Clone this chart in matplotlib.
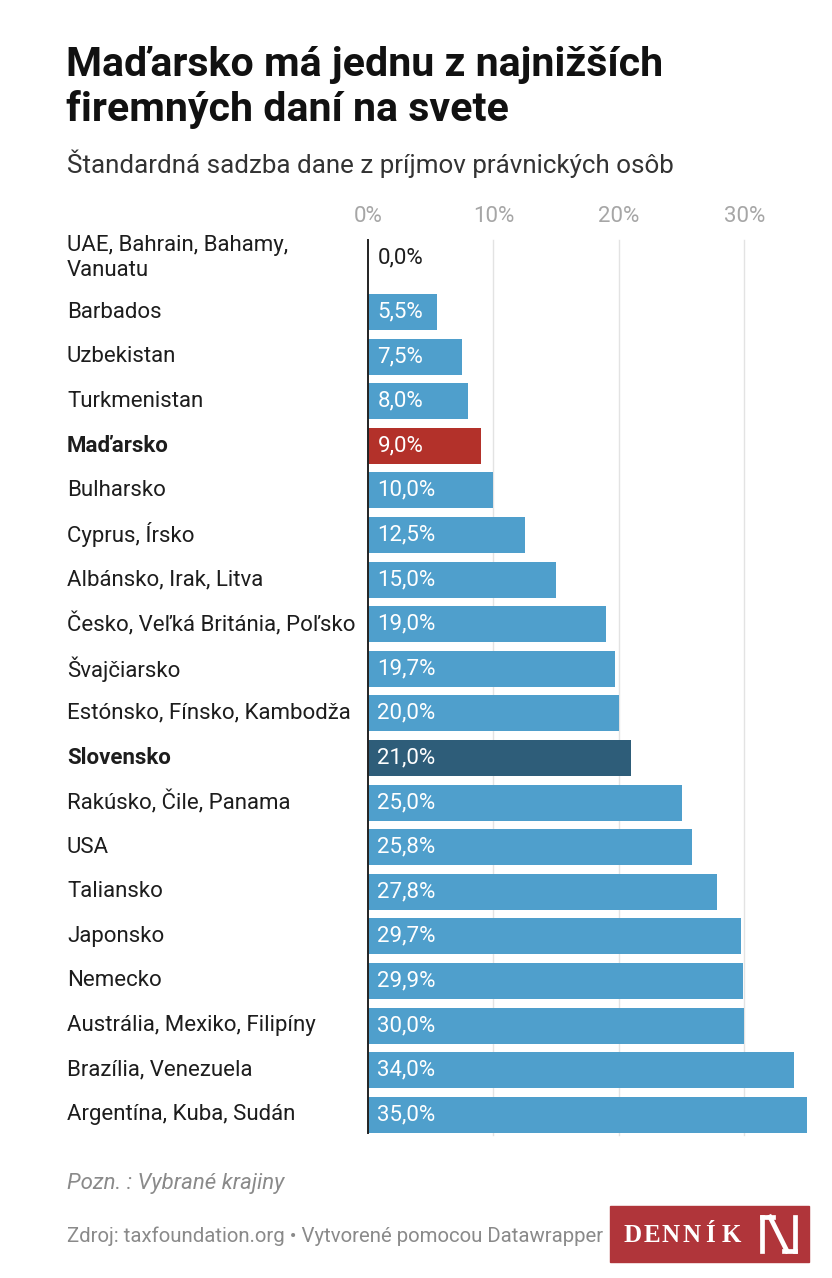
import matplotlib
matplotlib.use("Agg")
import matplotlib.pyplot as plt
from matplotlib.lines import Line2D
from matplotlib.patches import Rectangle

plt.rcParams["font.family"] = ["Roboto", "DejaVu Sans"]

W, H = 832, 1278

LABELS = [
    "UAE, Bahrain, Bahamy,\nVanuatu", "Barbados", "Uzbekistan", "Turkmenistan",
    "Maďarsko", "Bulharsko", "Cyprus, Írsko", "Albánsko, Irak, Litva",
    "Česko, Veľká Británia, Poľsko", "Švajčiarsko", "Estónsko, Fínsko, Kambodža",
    "Slovensko", "Rakúsko, Čile, Panama", "USA", "Taliansko", "Japonsko",
    "Nemecko", "Austrália, Mexiko, Filipíny", "Brazília, Venezuela",
    "Argentína, Kuba, Sudán",
]
RATES = [0.0, 5.5, 7.5, 8.0, 9.0, 10.0, 12.5, 15.0, 19.0, 19.7, 20.0, 21.0,
         25.0, 25.8, 27.8, 29.7, 29.9, 30.0, 34.0, 35.0]
HIGHLIGHT = {"Maďarsko": "#b3312a", "Slovensko": "#2e5d79"}
TICKS = [0, 10, 20, 30]

BLUE = "#4f9fcc"
INK = "#1d1d1d"
GRAY = "#8a8a8a"


def fx(x):
    return x / W


def fy(y):
    return 1 - y / H


fig = plt.figure(figsize=(W / 100, H / 100), dpi=100)
fig.patch.set_facecolor("white")

# plot area in pixel layout: x 368..807 (0..35 %), y 240..1135
top, bottom = 240, 1135
ax = fig.add_axes([fx(368), fy(bottom), fx(807) - fx(368), (bottom - top) / H])
ax.set_xlim(0, 35)
ax.set_ylim(bottom, top)
ax.axis("off")

# row centres (first row is taller because of its two-line label)
rows = [258] + [312 + i * 44.6 for i in range(len(LABELS) - 1)]

for t in TICKS[1:]:
    ax.plot([t, t], [top, bottom], color="#e3e3e3", lw=1, zorder=0, clip_on=False)

for lab, v, y in zip(LABELS, RATES, rows):
    col = HIGHLIGHT.get(lab, BLUE)
    ax.barh(y, v, height=36, color=col, zorder=2)
    txt = f"{v:.1f}%".replace(".", ",")
    ax.text(0.75, y, txt, ha="left", va="center", fontsize=16,
            color="white" if v > 0 else INK, zorder=3)
    bold = lab in HIGHLIGHT
    fig.text(fx(67), fy(y), lab, ha="left", va="center", fontsize=16,
             color=INK, fontweight="bold" if bold else "normal",
             linespacing=1.2)

ax.plot([0, 0], [top, bottom - 2], color="#222222", lw=1.4, zorder=4,
        clip_on=False)

for t in TICKS:
    ax.text(t, 217, f"{t}%", ha="center", va="center", fontsize=16,
            color="#a6a6a6")

# titles
fig.text(fx(66), fy(76), "Maďarsko má jednu z najnižších", ha="left",
         va="baseline", fontsize=29.6, fontweight="bold", color="#111111")
fig.text(fx(66), fy(121), "firemných daní na svete", ha="left",
         va="baseline", fontsize=29.6, fontweight="bold", color="#111111")
fig.text(fx(67), fy(173), "Štandardná sadzba dane z príjmov právnických osôb",
         ha="left", va="baseline", fontsize=18.7, color="#333333")

# notes
fig.text(fx(67), fy(1184), "Pozn. : Vybrané krajiny", ha="left", va="center",
         fontsize=16, style="italic", color=GRAY)
fig.text(fx(67), fy(1236),
         "Zdroj: taxfoundation.org • Vytvorené pomocou Datawrapper",
         ha="left", va="center", fontsize=14.7, color=GRAY)

# logo
LOGO_RED = "#b0353a"
fig.add_artist(Rectangle((fx(610), fy(1262)), fx(809) - fx(610), (1262 - 1206) / H,
                         transform=fig.transFigure, color=LOGO_RED))
for ch, cx in zip("DENNÍK", [633, 652, 671, 692, 710, 731]):
    fig.text(fx(cx), fy(1242), ch, ha="center", va="baseline", fontsize=18,
             fontweight="bold", color="white", family=["Liberation Serif"])
x0, x1, y0, y1 = 762, 795, 1217, 1251
nlw = 3.4
segs = [
    ((x0, x0 + 11), (y0, y0)),
    ((x0, x0), (y0, y1)),
    ((x0 + 8, x1 - 8), (y0, y1)),
    ((x1, x1), (y0, y1)),
    ((x1 - 11, x1), (y1, y1)),
]
for xs, ys in segs:
    fig.add_artist(Line2D([fx(v) for v in xs], [fy(v) for v in ys], color="white",
                          lw=nlw, transform=fig.transFigure,
                          solid_capstyle="projecting"))

fig.savefig("out.png", dpi=100)
